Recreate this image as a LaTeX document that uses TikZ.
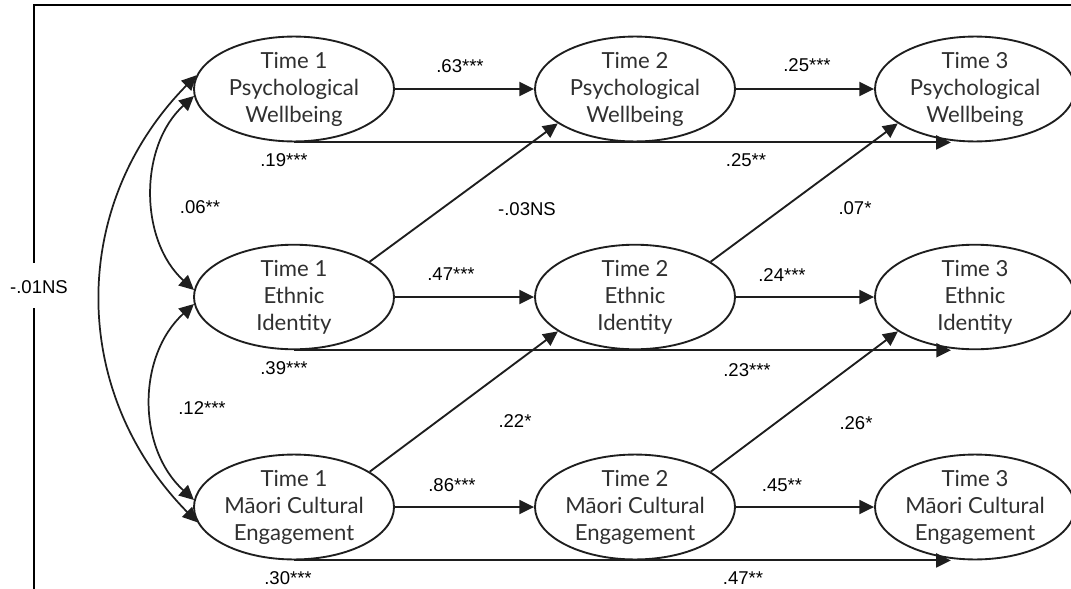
\documentclass[tikz,border=0pt]{standalone}
\usepackage{fontspec}
\setmainfont{Liberation Sans}
\newfontfamily\ellfont{Lato}
\usetikzlibrary{arrows.meta,shapes.geometric}

\definecolor{inkline}{HTML}{1E1E1E}
\definecolor{inktext}{HTML}{303030}

\begin{document}
\begin{tikzpicture}[x=0.75pt,y=-0.75pt,
  latent/.style={ellipse, draw=inkline, line width=1.4pt, fill=white,
    minimum width=150pt, minimum height=69.75pt, inner sep=0pt,
    align=center, text=inktext,
    font=\ellfont\fontsize{16.6}{20.25}\selectfont},
  coef/.style={inner sep=0pt, font=\fontsize{13.9}{16}\selectfont},
  path/.style={draw=inkline, line width=1.4pt,
    -{Triangle[length=11pt,width=10.5pt]}},
  lag/.style={path, line width=1.6pt},
  bidir/.style={draw=inkline, line width=1.3pt,
    {Triangle[length=11pt,width=10.5pt]}-{Triangle[length=11pt,width=10.5pt]}}]
\useasboundingbox (0,0) rectangle (1071,589);
\fill[white] (0,0) rectangle (1071,589);

% frame
\draw[line width=1.2pt] (34,589) -- (34,5) -- (1071,5);
\fill[white] (0,263) rectangle (96,308);
\node[coef] (lcov) at (39,287) {-.01NS};

% latent variables: rows = constructs, columns = waves
\node[latent] (p1) at (294,89)  {Time 1\\Psychological\\Wellbeing};
\node[latent] (p2) at (635,89)  {Time 2\\Psychological\\Wellbeing};
\node[latent] (p3) at (975,89)  {Time 3\\Psychological\\Wellbeing};
\node[latent] (e1) at (294,297) {Time 1\\Ethnic\\Identity};
\node[latent] (e2) at (635,297) {Time 2\\Ethnic\\Identity};
\node[latent] (e3) at (975,297) {Time 3\\Ethnic\\Identity};
\node[latent] (m1) at (294,507) {Time 1\\Māori Cultural\\Engagement};
\node[latent] (m2) at (635,507) {Time 2\\Māori Cultural\\Engagement};
\node[latent] (m3) at (975,507) {Time 3\\Māori Cultural\\Engagement};

% autoregressive paths
\draw[path] (p1.east) -- (p2.west);
\draw[path] (p2.east) -- (p3.west);
\draw[path] (e1.east) -- (e2.west);
\draw[path] (e2.east) -- (e3.west);
\draw[path] (m1.east) -- (m2.west);
\draw[path] (m2.east) -- (m3.west);

% lag-2 paths
\draw[lag] (p1.south) -- (p1.south -| p3.245);
\draw[lag] (e1.south) -- (e1.south -| e3.245);
\draw[lag] (m1.south) -- (m1.south -| m3.245);

% cross-lagged paths
\draw[path] (e1.25) -- (p2.204);
\draw[path] (e2.25) -- (p3.204);
\draw[path] (m1.25) -- (e2.204);
\draw[path] (m2.25) -- (e3.204);

% covariances at Time 1
\draw[bidir] (p1.184) .. controls +(-55,50) and +(-55,-50) .. (e1.176);
\draw[bidir] (e1.184) .. controls +(-57,52) and +(-57,-52) .. (m1.176);
\draw[bidir] (p1.172) .. controls +(-128,130) and +(-128,-130) .. (m1.189);

% coefficients
\node[coef] at (460,66)  {.63***};
\node[coef] at (807,65)  {.25***};
\node[coef] at (284,160) {.19***};
\node[coef] at (746,160) {.25**};
\node[coef] at (200,207) {.06**};
\node[coef] at (527,209) {-.03NS};
\node[coef] at (855,208) {.07*};
\node[coef] at (451,274) {.47***};
\node[coef] at (782,275) {.24***};
\node[coef] at (284,368) {.39***};
\node[coef] at (747,370) {.23***};
\node[coef] at (202,408) {.12***};
\node[coef] at (515,421) {.22*};
\node[coef] at (856,423) {.26*};
\node[coef] at (452,485) {.86***};
\node[coef] at (782,485) {.45**};
\node[coef] at (288,578) {.30***};
\node[coef] at (743,578) {.47**};
\end{tikzpicture}
\end{document}
